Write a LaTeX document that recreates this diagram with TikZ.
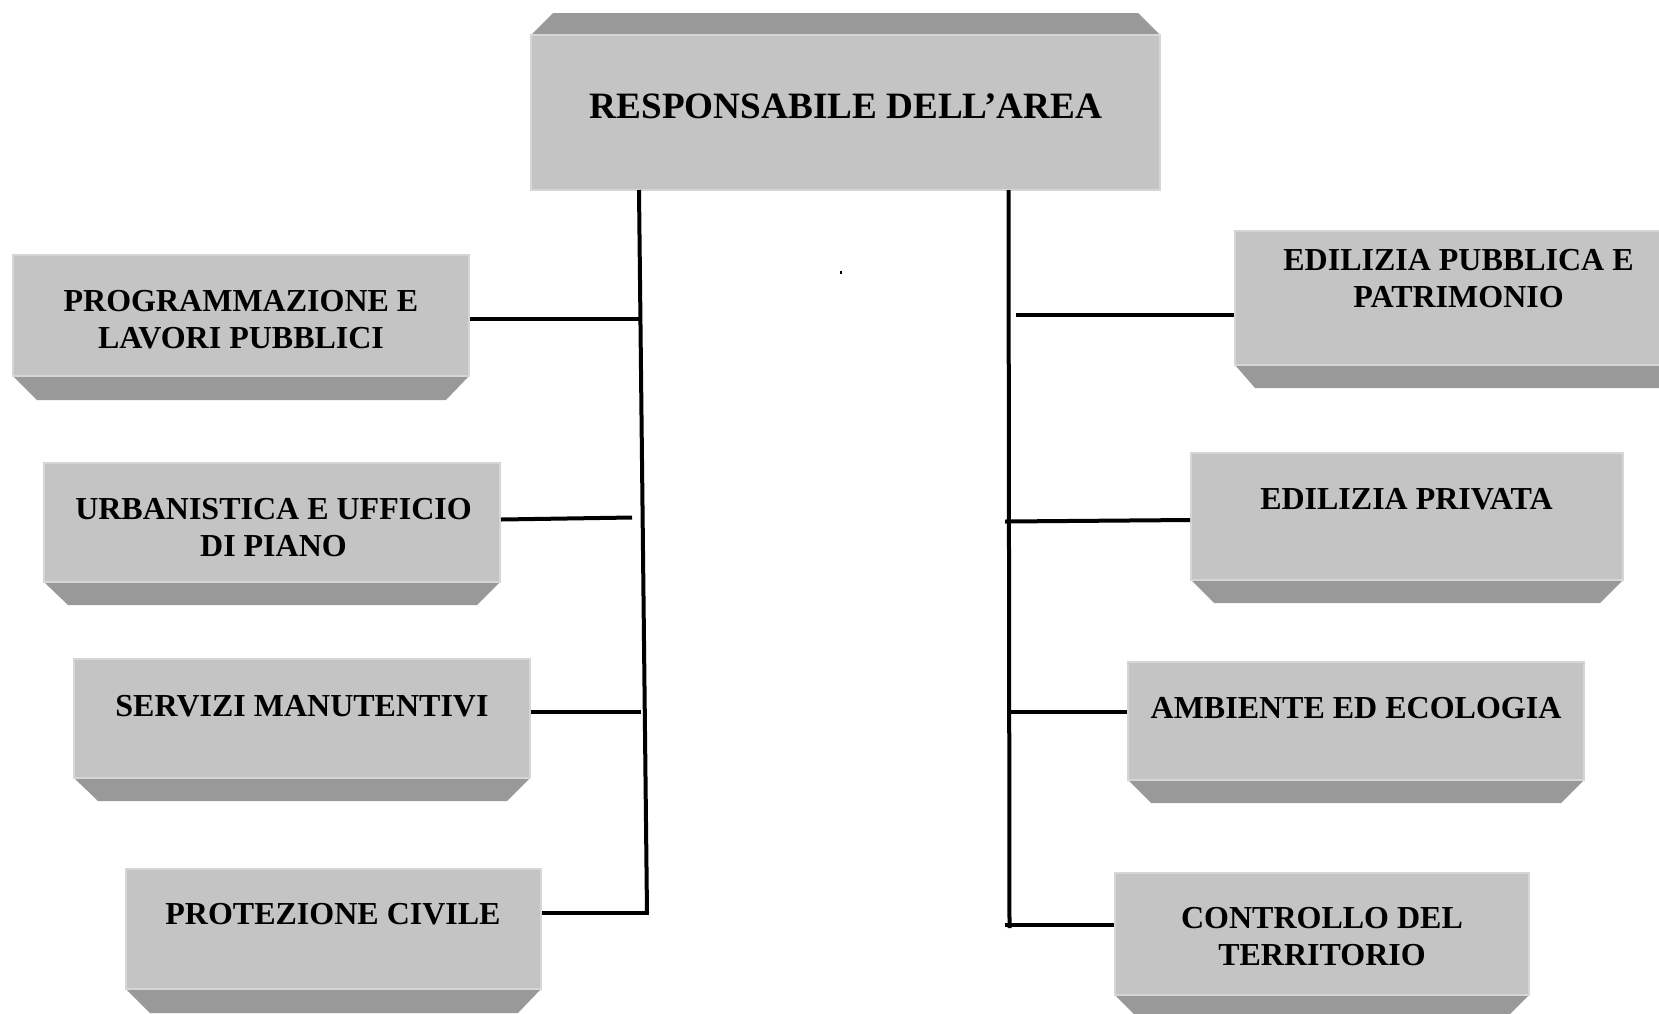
\documentclass[tikz,border=0pt]{standalone}
\usepackage{fontspec}
\setmainfont{Liberation Serif}
\usetikzlibrary{fit}
\definecolor{facegray}{RGB}{196,196,196}
\definecolor{bevelgray}{RGB}{153,153,153}
\definecolor{edgegray}{RGB}{214,214,214}
\tikzset{
  face/.style={rectangle, fill=facegray, draw=edgegray, line width=1pt, inner sep=0pt},
  bevel/.style={fill=bevelgray},
  lbl/.style={font=\bfseries\fontsize{16}{18.5}\selectfont, align=center, inner sep=0pt},
  toplbl/.style={font=\bfseries\fontsize{18.6}{22}\selectfont, inner sep=0pt},
  conn/.style={line width=2pt, draw=black},
}
\begin{document}
\begin{tikzpicture}[x=0.5pt,y=-0.5pt]
\useasboundingbox (0,0) rectangle (1659,1013);
\begin{scope}
\clip (0,0) rectangle (1659,1013);

% ---- top box
\fill[bevel] (531,35) -- (553,13) -- (1138,13) -- (1160,35) -- cycle;
\node[face, fit={(531,35) (1160,190)}] (top) {};
\node[toplbl] (toptxt) at (846,106) {RESPONSABILE DELL’AREA};

% ---- left boxes
\fill[bevel] (13,376) -- (469,376) -- (446,400) -- (37,400) -- cycle;
\node[face, fit={(13,255) (469,376)}] (l1) {};
\node[lbl] (l1t) at (241,320) {PROGRAMMAZIONE E\\LAVORI PUBBLICI};

\fill[bevel] (44,582) -- (500,582) -- (477,605) -- (68,605) -- cycle;
\node[face, fit={(44,463) (500,582)}] (l2) {};
\node[lbl] (l2t) at (273.5,528) {URBANISTICA E UFFICIO\\DI PIANO};

\fill[bevel] (74,778) -- (530,778) -- (507,801) -- (98,801) -- cycle;
\node[face, fit={(74,659) (530,778)}] (l3) {};
\node[lbl] (l3t) at (302,706) {SERVIZI MANUTENTIVI};

\fill[bevel] (126,989) -- (541,989) -- (518,1013) -- (150,1013) -- cycle;
\node[face, fit={(126,869) (541,989)}] (l4) {};
\node[lbl] (l4t) at (333,914) {PROTEZIONE CIVILE};

% ---- right boxes
\fill[bevel] (1235,365) -- (1675,365) -- (1675,388) -- (1255,388) -- cycle;
\node[face, fit={(1235,231) (1675,365)}] (r1) {};
\node[lbl] (r1t) at (1458.5,279) {EDILIZIA PUBBLICA E\\PATRIMONIO};

\fill[bevel] (1191,580) -- (1623,580) -- (1600,603) -- (1214,603) -- cycle;
\node[face, fit={(1191,453) (1623,580)}] (r2) {};
\node[lbl] (r2t) at (1406.5,499) {EDILIZIA PRIVATA};

\fill[bevel] (1128,780) -- (1584,780) -- (1561,803) -- (1151,803) -- cycle;
\node[face, fit={(1128,662) (1584,780)}] (r3) {};
\node[lbl] (r3t) at (1356,708) {AMBIENTE ED ECOLOGIA};

\fill[bevel] (1115,995) -- (1529,995) -- (1506,1018) -- (1138,1018) -- cycle;
\node[face, fit={(1115,873) (1529,995)}] (r4) {};
\node[lbl] (r4t) at (1322,937) {CONTROLLO DEL\\TERRITORIO};

% ---- connectors, left
\coordinate (lvt) at (639,190);
\coordinate (lvb) at (647,913);
\draw[conn] (lvt) -- (lvb);
\coordinate (j1) at (641,318.5);
\coordinate (j2) at (632,517.5);
\coordinate (j3) at (641,712);
\coordinate (j4) at (649,913);
\draw[conn] (l1.east |- j1) -- (j1);
\draw[conn] (l2.east |- 0,519.5) -- (j2);
\draw[conn] (l3.east |- j3) -- (j3);
\draw[conn] (l4.east |- j4) -- (j4);

% ---- connectors, right
\coordinate (rvt) at (1008.5,190);
\coordinate (rvb) at (1009.5,928);
\draw[conn] (rvt) -- (rvb);
\coordinate (k1) at (1016,315);
\coordinate (k2) at (1005,521.5);
\coordinate (k3) at (1009,712);
\coordinate (k4) at (1005,924.5);
\draw[conn] (k1) -- (r1.west |- k1);
\draw[conn] (k2) -- (r2.west |- 0,520);
\draw[conn] (k3) -- (r3.west |- k3);
\draw[conn] (k4) -- (r4.west |- k4);

% ---- tiny mark
\fill (840,271) rectangle (842,274);
\end{scope}
\end{tikzpicture}
\end{document}
